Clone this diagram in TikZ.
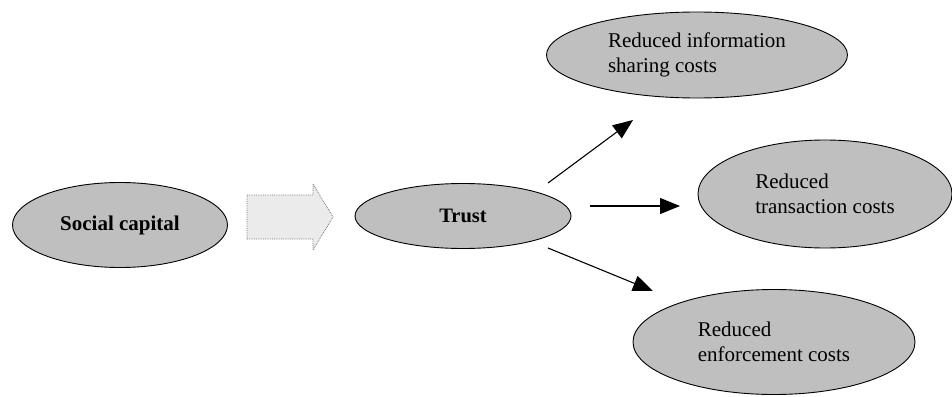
\documentclass[tikz,border=0pt]{standalone}
\usepackage{fontspec}
\setmainfont{Liberation Serif}
\usetikzlibrary{shapes.geometric, arrows.meta}

\tikzset{
    factor/.style={ellipse, draw=black, line width=0.9pt, fill=black!25, inner sep=0pt, align=left,
        font=\fontsize{21}{25}\selectfont},
    link/.style={line width=1.1pt, -{Triangle[length=20pt, width=16pt]}},
    flowarrow/.style={draw=black!55, densely dotted, line width=0.8pt, fill=black!8}
}

\begin{document}
\begin{tikzpicture}[x=1pt, y=-1pt]
    \useasboundingbox (0,0) rectangle (952,396);

    \node[factor, minimum width=215pt, minimum height=85pt, font=\fontsize{21}{25}\selectfont\bfseries] (social) at (120,225) {Social capital};
    \node[factor, minimum width=216pt, minimum height=65pt, font=\fontsize{20.5}{25}\selectfont\bfseries] (trust) at (463,216) {Trust};

    \node[factor, minimum width=301pt, minimum height=86pt] (info) at (697,55) {Reduced information\\sharing costs};
    \node[factor, minimum width=254pt, minimum height=108pt] (trans) at (825,194) {Reduced\\transaction costs};
    \node[factor, minimum width=282pt, minimum height=105pt] (enforce) at (774,342) {Reduced\\enforcement costs};

    % block arrow between social capital and trust
    \coordinate (flow) at (247,217);
    \draw[flowarrow] (flow) ++(0,-22) -- ++(66,0) -- ++(0,-11) -- ++(20,33) -- ++(-20,33) -- ++(0,-11) -- ++(-66,0) -- cycle;

    % arrow ends
    \coordinate (ta) at (548,183);
    \coordinate (tb) at (590,206);
    \coordinate (tc) at (548,248);
    \coordinate (ia) at (633,120);
    \coordinate (ib) at (680,206);
    \coordinate (ic) at (653,291);

    \draw[link] (ta) -- (ia);
    \draw[link] (tb) -- (ib);
    \draw[link] (tc) -- (ic);
\end{tikzpicture}
\end{document}
